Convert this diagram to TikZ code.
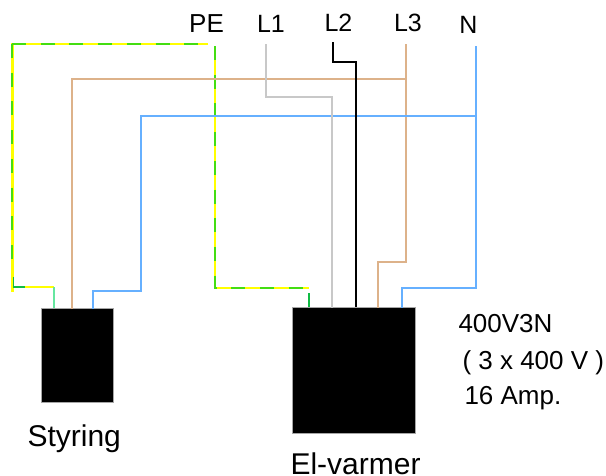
\documentclass[tikz,border=0pt]{standalone}
\usepackage{fontspec}
\setmainfont{Liberation Sans}
\definecolor{wtan}{HTML}{DDB28A}
\definecolor{wblue}{HTML}{66B0FF}
\definecolor{wgrey}{HTML}{C8C8C8}
\definecolor{wyel}{HTML}{FFFF00}
\definecolor{wgreen}{HTML}{44DD11}
\definecolor{wlgreen}{HTML}{66E6A0}
\definecolor{wdgreen}{HTML}{11BB44}
\tikzset{
  unitbox/.style={draw=gray!70,line width=.6pt,fill=black,minimum width=#1,inner sep=0pt,outer sep=0pt},
  wire/.style={line width=2.4pt,line join=miter},
  tanw/.style={wire,draw=wtan},
  bluew/.style={wire,draw=wblue},
  greyw/.style={wire,draw=wgrey},
  blackw/.style={wire,draw=black},
  peyel/.style={wire,draw=wyel},
  pegreen/.style={wire,line width=2pt,draw=wgreen,dash pattern=on 14pt off 14.7pt},
  lab/.style={inner sep=0pt,outer sep=0pt,font=\fontsize{#1}{#1}\selectfont,text=black},
}
\begin{document}
\begin{tikzpicture}[x=1pt,y=-1pt]
\useasboundingbox (0,0) rectangle (606,475);
\node[unitbox=72pt,minimum height=94pt] (styr) at (77,355) {};
\node[unitbox=123pt,minimum height=126pt] (varm) at (353.7,370) {};

% free ends of the wires
\coordinate (peA) at (208,44);
\coordinate (peB) at (215,46);
\coordinate (l1t) at (266,44);
\coordinate (l2t) at (333,42);
\coordinate (l3t) at (406,44);
\coordinate (nt) at (476,46);
\coordinate (peC) at (309,288);
\coordinate (peD) at (309,293);
\coordinate (sPE) at (54,308);
\coordinate (sL3) at (72,309);
\coordinate (sN) at (93,309);
\coordinate (vL1) at (332,308);
\coordinate (vL2) at (356,307);
\coordinate (vL3) at (378,308);
\coordinate (vN) at (402,308);
\coordinate (vPE) at (309,307);

% PE
\draw[peyel] (peA) -- (12.5,44) -- (12.5,292);
\draw[pegreen] (12,44) -- (peA);
\draw[pegreen] (12,44) -- (12,266);
\draw[wire,line width=1.6pt,draw=wdgreen] (13.5,277) -- (13.5,287) -- (25,287);
\draw[peyel] (25,287) -- (54,287);
\draw[wire,draw=wlgreen] (54,287) -- (sPE);
\draw[peyel] (peB) -- (215,288) -- (peC);
\draw[pegreen] (peB) -- (215,288) -- (peC);
\draw[wire,line width=1.2pt,draw=wdgreen] (peD) -- (vPE);

% L3
\draw[tanw] (sL3) -- (72,79) -- (406,79);
\draw[tanw] (l3t) -- (406,262) -- (378,262) -- (vL3);
% N
\draw[bluew] (sN) -- (93,291) -- (141,291) -- (141,116) -- (476,116);
\draw[bluew] (nt) -- (476,288) -- (402,288) -- (vN);
% L1
\draw[greyw] (l1t) -- (266,97) -- (332,97) -- (vL1);
% L2
\draw[blackw] (l2t) -- (333,62) -- (356,62) -- (vL2);

\node[lab=26,anchor=base] (tPE) at (206.5,32.7) {PE};
\node[lab=25,anchor=base] (tL1) at (271,32.7) {L1};
\node[lab=25,anchor=base] (tL2) at (338.5,31.5) {L2};
\node[lab=25,anchor=base] (tL3) at (408,31.5) {L3};
\node[lab=25,anchor=base] (tN) at (468.5,33) {N};
\node[lab=26,anchor=base west] (t1) at (458.5,332) {400V3N};
\node[lab=26,anchor=base west] (t2) at (462.5,369) {( 3 x 400 V )};
\node[lab=26,anchor=base west] (t3) at (464.5,404) {16 Amp.};
\node[lab=30,anchor=base west] (t4) at (27.5,446) {Styring};
\node[lab=30,anchor=base west] (t5) at (290.5,474) {El-varmer};
\end{tikzpicture}
\end{document}
